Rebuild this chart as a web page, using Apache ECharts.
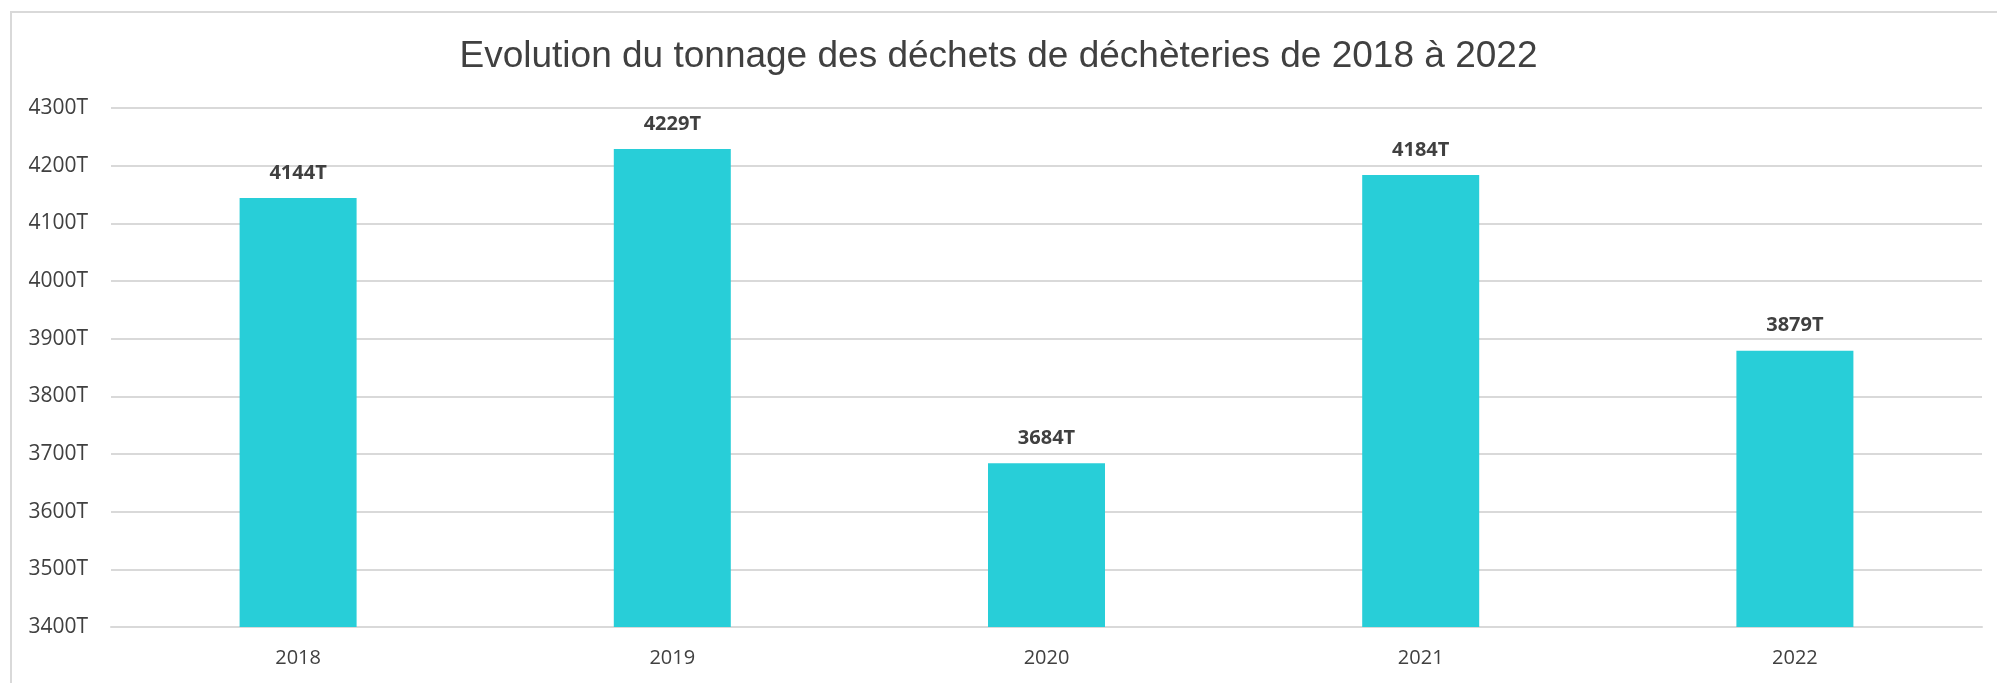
<!DOCTYPE html>
<html>
<head>
<meta charset="utf-8">
<script src="https://cdn.jsdelivr.net/npm/echarts@6/dist/echarts.min.js"></script>
<style>
html,body{margin:0;padding:0;background:#fff;}
#chart{width:1997px;height:683px;}
</style>
</head>
<body>
<div id="chart"></div>
<script>
const titleText = "Evolution du tonnage des déchets de déchèteries de 2018 à 2022";
const years = ["2018", "2019", "2020", "2021", "2022"];
const tonnage = [4144, 4229, 3684, 4184, 3879];
const yMin = 3400;
const yMax = 4300;
const yStep = 100;

const chart = echarts.init(document.getElementById('chart'), null, {renderer: 'canvas'});
chart.setOption({
  animation: false,
  backgroundColor: '#ffffff',
  title: {
    text: titleText,
    left: 'center',
    top: 33,
    textStyle: {
      fontFamily: 'Liberation Sans',
      fontSize: 37,
      fontWeight: 'normal',
      color: '#404040'
    }
  },
  graphic: [{
    type: 'rect',
    shape: {x: 11, y: 12, width: 2100, height: 800},
    style: {fill: 'none', stroke: '#d9d9d9', lineWidth: 2},
    silent: true,
    z: -1
  }],
  grid: {left: 111, right: 15, top: 108, bottom: 56, containLabel: false},
  xAxis: {
    type: 'category',
    data: years,
    axisLine: {show: true, lineStyle: {color: '#d9d9d9', width: 2}},
    axisTick: {show: false},
    axisLabel: {
      margin: 21,
      fontFamily: 'Open Sans',
      fontSize: 20,
      color: '#404040'
    }
  },
  yAxis: {
    type: 'value',
    min: yMin,
    max: yMax,
    interval: yStep,
    axisLine: {show: false},
    axisTick: {show: false},
    splitLine: {lineStyle: {color: '#d9d9d9', width: 2}},
    axisLabel: {
      margin: 23,
      fontFamily: 'Open Sans',
      fontSize: 21,
      color: '#404040',
      formatter: v => v + 'T'
    }
  },
  series: [{
    type: 'bar',
    data: tonnage,
    barWidth: 117,
    itemStyle: {color: '#28CED8'},
    label: {
      show: true,
      position: 'top',
      distance: 15,
      fontFamily: 'Open Sans',
      fontWeight: 'bold',
      fontSize: 20,
      color: '#404040',
      formatter: p => p.value + 'T'
    }
  }]
});
</script>
</body>
</html>
